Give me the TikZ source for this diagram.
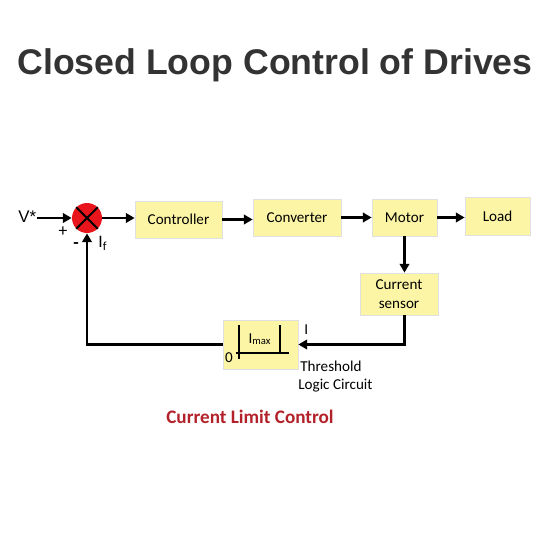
\documentclass[tikz,border=0pt]{standalone}
\usepackage{fontspec}
\setmainfont{Carlito}
\newfontfamily\arialfont{Liberation Sans}
\usetikzlibrary{arrows.meta}

\definecolor{boxyellow}{HTML}{FCF5A6}
\definecolor{sumred}{HTML}{E8161C}
\definecolor{titlegray}{HTML}{333333}
\definecolor{limitred}{HTML}{B3222A}

\begin{document}
\begin{tikzpicture}[x=0.02cm,y=-0.02cm,
  blockbox/.style={draw=black!12, fill=boxyellow, minimum height=0.74cm, inner sep=1pt, font=\fontsize{8.6}{10.5}\selectfont, align=center},
  sig/.style={line width=1.5pt, -{Triangle[length=5pt,width=5.4pt]}},
  lbl/.style={font=\fontsize{8.6}{10}\selectfont, inner sep=0pt},
  sumlbl/.style={font=\fontsize{10}{12}\selectfont, inner sep=0pt}]

\useasboundingbox (0,0) rectangle (550,550);

% Title
\node[font=\arialfont\bfseries\fontsize{20.3}{24}\selectfont, text=titlegray, anchor=base] (title) at (275,75) {Closed Loop Control of Drives};

% Summing junction
\node[circle, fill=sumred, minimum size=0.6cm, inner sep=0pt] (sum) at (87,218) {};
\draw[line width=1.1pt] (sum.north west) -- (sum.south east);
\draw[line width=1.1pt] (sum.north east) -- (sum.south west);
\node[font=\arialfont\fontsize{9.6}{11}\selectfont, anchor=base west, inner sep=0pt] (vref) at (18,223) {V*};

% Forward path
\node[blockbox, minimum width=1.74cm] (ctrl) at (178.5,219.5) {Controller};
\node[blockbox, minimum width=1.76cm] (conv) at (297,217.5) {Converter};
\node[blockbox, minimum width=1.3cm] (motor) at (404.5,217.5) {Motor};
\node[blockbox, minimum width=1.3cm, minimum height=0.76cm] (load) at (497.5,216) {Load};

% Feedback path
\node[blockbox, minimum width=1.56cm, minimum height=0.84cm] (sensor) at (399,294) {Current\\sensor};
\node[blockbox, minimum width=1.5cm, minimum height=0.98cm] (thresh) at (260.5,344.5) {};
\draw[line width=0.6pt] (239,325) -- (239,359);
\draw[line width=0.6pt] (236,353) -- (289,353);
\draw[line width=0.6pt] (280,325) -- (280,353);
\node[lbl, anchor=base] (imax) at (260,343) {I\textsubscript{max}};
\node[lbl, anchor=base] (zero) at (229,362) {0};

% Connectors
\draw[sig] (vref.east |- sum.west) -- (sum.west);
\draw[sig] (sum.east) -- (ctrl.west |- sum.east);
\draw[sig] (ctrl.east) -- (conv.west |- ctrl.east);
\draw[sig] (conv.east) -- (motor.west);
\draw[sig] (motor.east) -- (load.west |- motor.east);
\draw[sig] (motor.south) -- (motor.south |- sensor.north);
\draw[sig] (sensor.south -| motor.south) |- (thresh.east);
\draw[sig] (thresh.west) -| (sum.south);

% Signal labels
\node[sumlbl, anchor=base] (plus) at (63,236) {+};
\node[sumlbl, anchor=base, font=\bfseries\fontsize{10}{12}\selectfont] (minus) at (76,249) {-};
\node[sumlbl, anchor=base west] (ifb) at (98,248) {I\textsubscript{f}};
\node[lbl, anchor=base west] (icur) at (304,334) {I};
\node[lbl, anchor=base west] (thtext) at (300,371) {Threshold};
\node[lbl, anchor=base west] (lctext) at (298,389) {Logic Circuit};

% Caption
\node[font=\bfseries\fontsize{10.9}{13}\selectfont, text=limitred, anchor=base] (caption) at (250,423) {Current Limit Control};

\end{tikzpicture}
\end{document}
